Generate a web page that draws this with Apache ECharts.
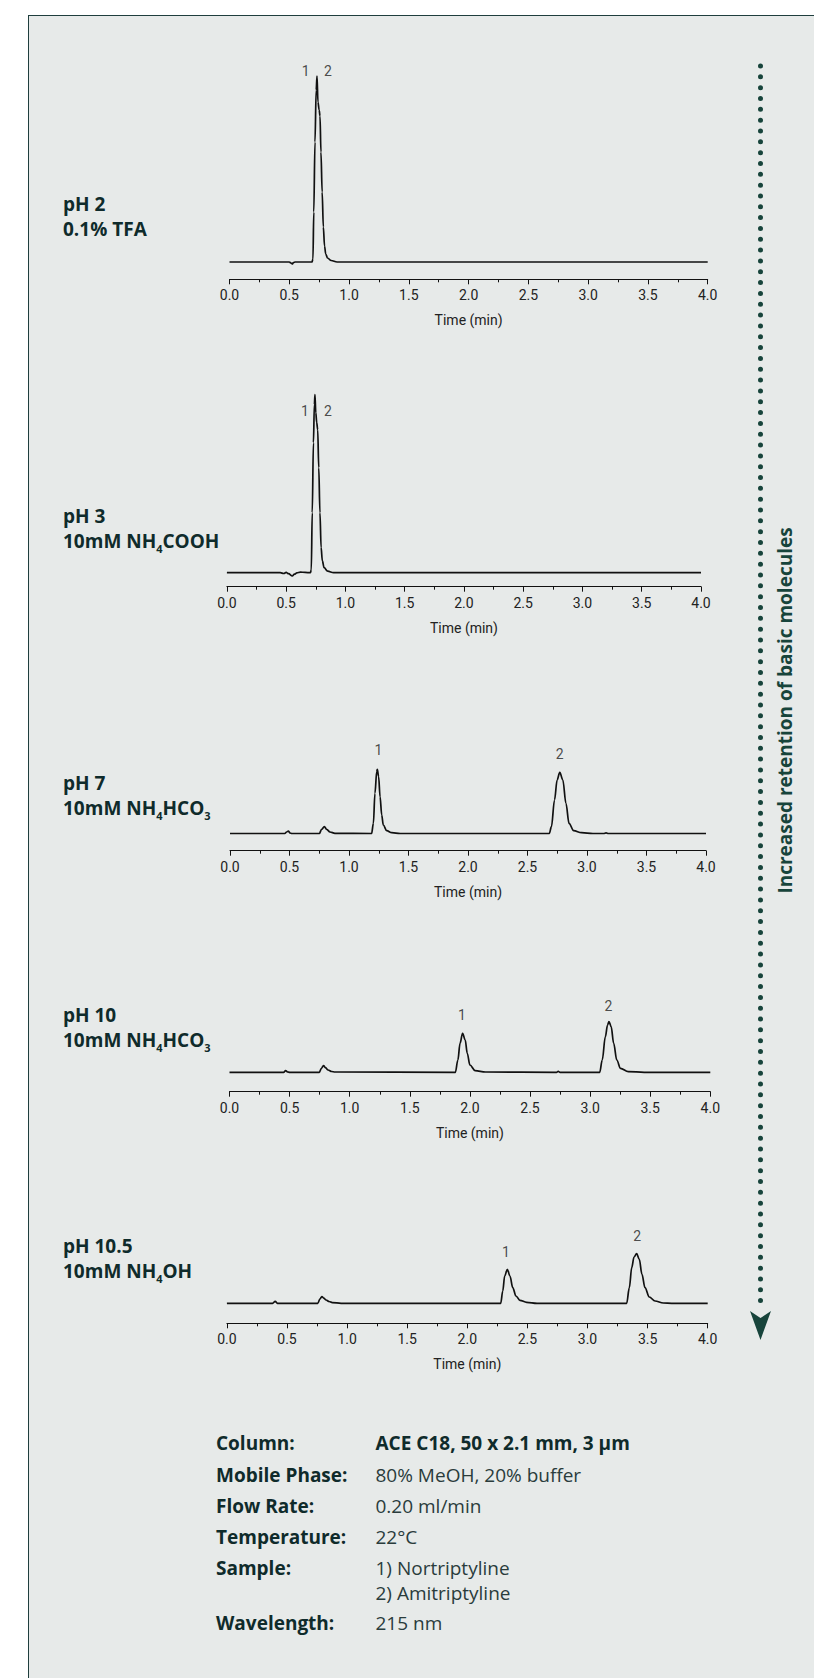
<!DOCTYPE html>
<html><head><meta charset="utf-8">
<script src="https://cdn.jsdelivr.net/npm/echarts@6/dist/echarts.min.js"></script>
<style>
html,body{margin:0;padding:0;background:#fff;}
#panel{position:absolute;left:28px;top:15px;width:786px;height:1663px;background:#e7eae9;border-left:1px solid #1f3e3d;border-top:1px solid #1f3e3d;box-sizing:border-box;}
#chart{position:absolute;left:0;top:0;width:814px;height:1678px;}
</style></head><body>
<div id="panel"></div><div id="chart"></div>
<script>
// ---------- DATA ----------
const conditions = ['pH 2', 'pH 3', 'pH 7', 'pH 10', 'pH 10.5'];
const buffers = ['0.1% TFA', '10mM NH{s|4}COOH', '10mM NH{s|4}HCO{s|3}', '10mM NH{s|4}HCO{s|3}', '10mM NH{s|4}OH'];
const timeTicks = [0, 0.5, 1.0, 1.5, 2.0, 2.5, 3.0, 3.5, 4.0];
const peakNames = ['1', '2'];

const ph2Time   = [0, 0.50, 0.515, 0.525, 0.535, 0.55, 0.69, 0.698, 0.705, 0.715, 0.725, 0.732, 0.740, 0.750, 0.757, 0.765, 0.775, 0.785, 0.795, 0.805, 0.82, 0.85, 0.90, 4.0];
const ph2Signal = [0, 0, -1, -2, -0.5, 0, 0, 3, 50, 120, 172, 186, 160, 152, 146, 110, 70, 35, 16, 8, 4, 1.5, 0, 0];

const ph3Time   = [0, 0.45, 0.48, 0.50, 0.52, 0.552, 0.57, 0.59, 0.62, 0.66, 0.705, 0.712, 0.72, 0.73, 0.738, 0.743, 0.750, 0.758, 0.766, 0.775, 0.785, 0.795, 0.805, 0.82, 0.85, 0.90, 4.0];
const ph3Signal = [0, 0, -0.8, 0.3, -1, -3.3, -1.5, -0.2, 0.6, 0.3, 0, 3, 60, 130, 168, 178, 160, 150, 143, 105, 60, 25, 12, 5, 1.5, 0, 0];

const ph7Time   = [0, 0.46, 0.476, 0.49, 0.504, 0.52, 0.751, 0.770, 0.793, 0.812, 0.840, 0.882, 1.19, 1.205, 1.218, 1.233, 1.238, 1.249, 1.261, 1.275, 1.288, 1.317, 1.359, 1.43, 2.683, 2.701, 2.727, 2.749, 2.771, 2.797, 2.823, 2.849, 2.888, 2.954, 3.05, 3.14, 3.16, 3.18, 4.0];
const ph7Signal = [0, 0, 1.5, 2.5, 0.5, 0, 0, 4.2, 6.8, 4.2, 1.5, 0.2, 0, 10.2, 40.2, 61.8, 64.2, 56.8, 36.8, 18.5, 8.5, 2.8, 0.8, 0, 0, 6.8, 33.5, 53.5, 61.2, 53.5, 30.2, 10.2, 2.8, 0.8, 0, 0, 0.6, 0, 0];

const ph10Time   = [0, 0.45, 0.467, 0.485, 0.50, 0.747, 0.765, 0.782, 0.80, 0.82, 0.85, 0.877, 1.879, 1.900, 1.918, 1.939, 1.961, 1.978, 2.0, 2.043, 2.13, 2.72, 2.735, 2.75, 3.080, 3.101, 3.127, 3.145, 3.157, 3.175, 3.196, 3.222, 3.253, 3.318, 3.45, 4.0];
const ph10Signal = [0, 0, 1.7, 0.3, 0, 0, 4, 6.7, 4.5, 2.3, 0.8, 0.3, 0, 12.3, 29, 39, 32.3, 19, 7.3, 1.7, 0.3, 0, 1, 0, 0, 12.3, 35.7, 47.3, 50.7, 45.7, 29, 12.3, 4, 0.7, 0, 0];

const ph105Time   = [0, 0.38, 0.402, 0.42, 0.756, 0.775, 0.790, 0.805, 0.825, 0.85, 0.877, 0.95, 2.278, 2.295, 2.311, 2.333, 2.355, 2.378, 2.405, 2.438, 2.494, 2.58, 3.326, 3.348, 3.368, 3.387, 3.409, 3.431, 3.453, 3.478, 3.514, 3.562, 3.631, 3.70, 4.0];
const ph105Signal = [0, 0, 2, 0, 0, 4.5, 6.7, 5.2, 3.3, 1.8, 0.7, 0, 0, 12.3, 27.3, 34, 27.3, 15.7, 7.3, 3, 1, 0, 0, 15.7, 35.7, 46.3, 49.7, 44, 29, 15.7, 6.3, 2.3, 0.3, 0, 0];

// peak-number label anchors [time, signal]
const ph2LabelTime = [0.638, 0.824],  ph2LabelSignal = [191, 191];
const ph3LabelTime = [0.659, 0.853],  ph3LabelSignal = [162, 162];
const ph7LabelTime = [1.248, 2.771],  ph7LabelSignal = [83.5, 79.5];
const ph10LabelTime = [1.934, 3.153], ph10LabelSignal = [57.3, 66.3];
const ph105LabelTime = [2.322, 3.414], ph105LabelSignal = [51.6, 67.3];

const infoLabels = ['Column:', 'Mobile Phase:', 'Flow Rate:', 'Temperature:', 'Sample:', '', 'Wavelength:'];
const infoValues = ['ACE C18, 50 x 2.1 mm, 3 µm', '80% MeOH, 20% buffer', '0.20 ml/min', '22°C', '1) Nortriptyline', '2) Amitriptyline', '215 nm'];
const arrowText = 'Increased retention of basic molecules';

// ---------- LAYOUT ----------
const traces = [
  {t: ph2Time, s: ph2Signal, lt: ph2LabelTime, ls: ph2LabelSignal},
  {t: ph3Time, s: ph3Signal, lt: ph3LabelTime, ls: ph3LabelSignal},
  {t: ph7Time, s: ph7Signal, lt: ph7LabelTime, ls: ph7LabelSignal},
  {t: ph10Time, s: ph10Signal, lt: ph10LabelTime, ls: ph10LabelSignal},
  {t: ph105Time, s: ph105Signal, lt: ph105LabelTime, ls: ph105LabelSignal}
];
const frames = [
  {l: 229.5, r: 707.7, axisY: 279.3, baseY: 262.0, yMax: 200, labelY: 204},
  {l: 226.9, r: 701.0, axisY: 586.7, baseY: 572.7, yMax: 200, labelY: 516},
  {l: 230.0, r: 706.0, axisY: 850.7, baseY: 833.5, yMax: 100, labelY: 783},
  {l: 229.5, r: 710.3, axisY: 1091.7, baseY: 1072.3, yMax: 80, labelY: 1015},
  {l: 226.9, r: 707.7, axisY: 1323.3, baseY: 1303.3, yMax: 80, labelY: 1246}
];
const rowY = [1443.3, 1474.5, 1505.7, 1536.8, 1568.3, 1593.3, 1623.3];

const TXT = '#222';
const DARK = '#0f2b2b';
const TEAL = '#17443b';

const grids = [], xAxes = [], yAxes = [], series = [], graphics = [];
frames.forEach((f, i) => {
  const yMin = -(f.axisY - f.baseY);
  const h = f.yMax - yMin;
  grids.push({left: f.l, width: f.r - f.l, top: f.axisY - h, height: h, containLabel: false});
  xAxes.push({
    gridIndex: i, type: 'value', min: 0, max: 4, interval: 0.5, position: 'bottom',
    axisLine: {show: true, onZero: false, lineStyle: {color: '#111', width: 1}},
    axisTick: {show: true, length: 5, lineStyle: {color: '#111', width: 1}},
    minorTick: {show: true, splitNumber: 2, length: 3, lineStyle: {color: '#111', width: 1}},
    splitLine: {show: false}, minorSplitLine: {show: false},
    axisLabel: {show: true, margin: 9, fontFamily: 'Roboto', fontSize: 14, color: TXT,
      formatter: v => timeTicks.includes(+v.toFixed(1)) ? v.toFixed(1) : ''},
    name: 'Time (min)', nameLocation: 'middle', nameGap: 34,
    nameTextStyle: {fontFamily: 'Roboto', fontSize: 14, color: TXT}
  });
  yAxes.push({gridIndex: i, type: 'value', min: yMin, max: f.yMax, show: false, splitLine: {show: false}});
  const tr = traces[i];
  series.push({
    type: 'line', xAxisIndex: i, yAxisIndex: i, showSymbol: false, symbol: 'none',
    smooth: 0.35, smoothMonotone: 'x', clip: false, silent: true,
    lineStyle: {color: '#111', width: 1.7},
    data: tr.t.map((t, k) => [t, tr.s[k]])
  });
  series.push({
    type: 'scatter', xAxisIndex: i, yAxisIndex: i, symbolSize: 2, silent: true, clip: false,
    itemStyle: {color: 'rgba(0,0,0,0)'},
    label: {show: true, position: 'inside', formatter: '{b}', fontFamily: 'Roboto', fontSize: 14, color: TXT},
    data: tr.lt.map((t, k) => ({name: peakNames[k], value: [t, tr.ls[k]]}))
  });
  // condition label
  graphics.push({
    type: 'text', x: 63, y: f.labelY - 12.5,
    style: {
      text: '{b|' + conditions[i] + '}\n{b|' + buffers[i].replace(/\{s\|(\d)\}/g, '}{s|$1}{b|') + '}',
      align: 'left', verticalAlign: 'top',
      rich: {
        b: {fontFamily: 'Open Sans', fontWeight: 'bold', fontSize: 19, lineHeight: 25, fill: DARK, color: DARK},
        s: {fontFamily: 'Open Sans', fontWeight: 'bold', fontSize: 11, lineHeight: 8, verticalAlign: 'bottom', fill: DARK, color: DARK}
      }
    }
  });
});

// dotted arrow
graphics.push({type: 'line', shape: {x1: 760.5, y1: 66, x2: 760.5, y2: 1306},
  style: {stroke: TEAL, lineWidth: 5, lineDash: [0, 10.83], lineCap: 'round'}});
graphics.push({type: 'polygon', shape: {points: [[750, 1311], [760.5, 1318], [771, 1311], [760.5, 1340]]},
  style: {fill: TEAL}});
graphics.push({type: 'text', x: 785, y: 710.5, rotation: Math.PI / 2,
  style: {text: arrowText, align: 'center', verticalAlign: 'middle',
    font: 'bold 19px "Open Sans"', fill: TEAL}});

// info table
rowY.forEach((y, k) => {
  if (infoLabels[k]) graphics.push({type: 'text', x: 216, y: y,
    style: {text: infoLabels[k], align: 'left', verticalAlign: 'middle', font: 'bold 19px "Open Sans"', fill: DARK}});
  graphics.push({type: 'text', x: 375.5, y: y,
    style: {text: infoValues[k], align: 'left', verticalAlign: 'middle',
      font: (k === 0 ? 'bold ' : 'normal ') + '19px "Open Sans"', fill: k === 0 ? DARK : '#2a3c3c'}});
});

const chart = echarts.init(document.getElementById('chart'), null, {renderer: 'svg', width: 814, height: 1678});
chart.setOption({
  backgroundColor: 'transparent',
  animation: false,
  grid: grids, xAxis: xAxes, yAxis: yAxes, series: series,
  graphic: {elements: graphics}
});
</script>
</body></html>
